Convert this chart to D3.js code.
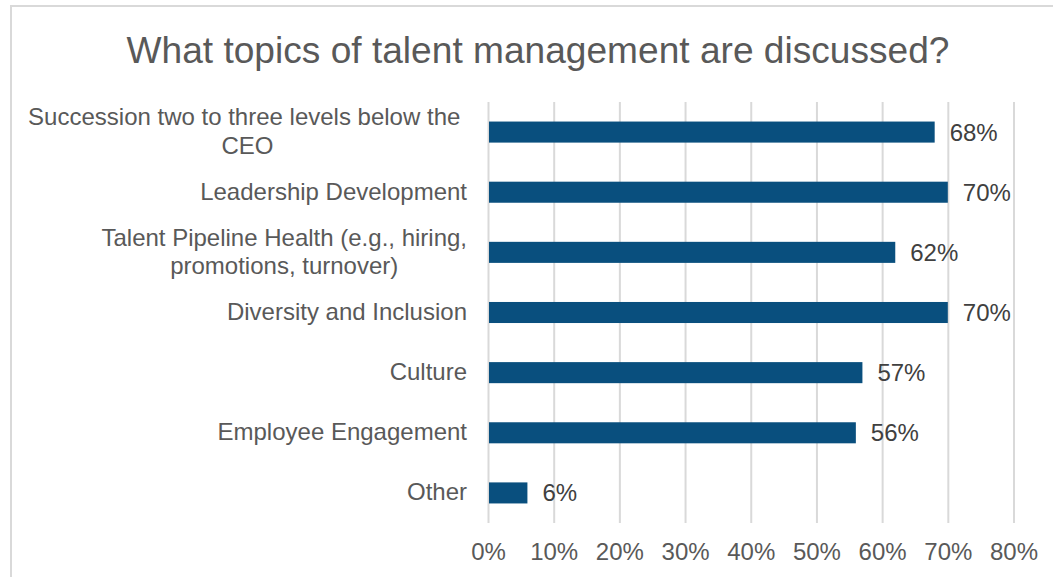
<!DOCTYPE html>
<html>
<head>
<meta charset="utf-8">
<script src="https://cdn.jsdelivr.net/npm/d3@7"></script>
<style>
  html, body { margin: 0; padding: 0; background: #fff; }
  svg { display: block; font-family: "Liberation Sans", Arial, sans-serif; }
</style>
</head>
<body>
<svg id="chart" width="1053" height="577"></svg>
<script>
const title = "What topics of talent management are discussed?";
const categories = [
  ["Succession two to three levels below the ", "CEO"],
  ["Leadership Development"],
  ["Talent Pipeline Health (e.g., hiring,", "promotions, turnover)"],
  ["Diversity and Inclusion"],
  ["Culture"],
  ["Employee Engagement"],
  ["Other"]
];
const values = [0.68, 0.70, 0.62, 0.70, 0.57, 0.56, 0.06];
const tickValues = [0, 0.1, 0.2, 0.3, 0.4, 0.5, 0.6, 0.7, 0.8];

const svg = d3.select("#chart");

// chart border
svg.append("rect")
  .attr("x", 11).attr("y", 6).attr("width", 1100).attr("height", 1000)
  .attr("fill", "#fff").attr("stroke", "#d9d9d9").attr("stroke-width", 2);

const plotLeft = 488, plotRight = 1013.5, plotTop = 102, plotBottom = 523;
const keys = categories.map((c, i) => String(i));

const x = d3.scaleLinear().domain([0, 0.8]).range([plotLeft, plotRight]);
const y = d3.scaleBand().domain(keys).range([plotTop, plotBottom])
  .paddingInner(0.65).paddingOuter(0.325);

// gridlines + tick labels via axis
const axis = d3.axisBottom(x)
  .tickValues(tickValues)
  .tickSize(-(plotBottom - plotTop))
  .tickPadding(0)
  .tickFormat(d3.format(".0%"));

const gAxis = svg.append("g").attr("transform", `translate(0,${plotBottom})`).call(axis);
gAxis.select(".domain").remove();
gAxis.selectAll(".tick line").attr("stroke", "#d9d9d9").attr("stroke-width", 2);
gAxis.selectAll(".tick text")
  .attr("y", 37).attr("dy", null)
  .attr("fill", "#595959")
  .style("font-size", "24px")
  .style("font-family", "'Liberation Sans', Arial, sans-serif");

// bars
svg.append("g").selectAll("rect")
  .data(values)
  .join("rect")
  .attr("x", x(0) + 1)
  .attr("y", (d, i) => y(keys[i]))
  .attr("width", d => x(d) - x(0) - 1)
  .attr("height", y.bandwidth())
  .attr("fill", "#094f7e");

// value labels
svg.append("g").selectAll("text")
  .data(values)
  .join("text")
  .attr("x", d => x(d) + 15)
  .attr("y", (d, i) => y(keys[i]) + y.bandwidth() / 2 + 8.5)
  .attr("fill", "#404040")
  .style("font-size", "24px")
  .text(d => d3.format(".0%")(d));

// category labels (block right-aligned, lines centered)
const lineH = 28.5;
const gCat = svg.append("g");
categories.forEach((lines, i) => {
  const cy = y(keys[i]) + y.bandwidth() / 2;
  const t = gCat.append("text")
    .attr("fill", "#595959")
    .style("font-size", "24px")
    .style("white-space", "pre")
    .attr("text-anchor", "middle");
  lines.forEach((ln, j) => {
    t.append("tspan")
      .attr("y", cy + 7.5 + (j - (lines.length - 1) / 2) * lineH)
      .text(ln);
  });
  const tspans = t.selectAll("tspan").nodes();
  const maxW = d3.max(tspans, n => n.getComputedTextLength());
  const cx = 467 - maxW / 2;
  t.selectAll("tspan").attr("x", cx);
});

// title
svg.append("text")
  .attr("x", 538).attr("y", 62.5)
  .attr("text-anchor", "middle")
  .attr("fill", "#595959")
  .style("font-size", "37.5px")
  .attr("textLength", 823)
  .attr("lengthAdjust", "spacingAndGlyphs")
  .text(title);
</script>
</body>
</html>
